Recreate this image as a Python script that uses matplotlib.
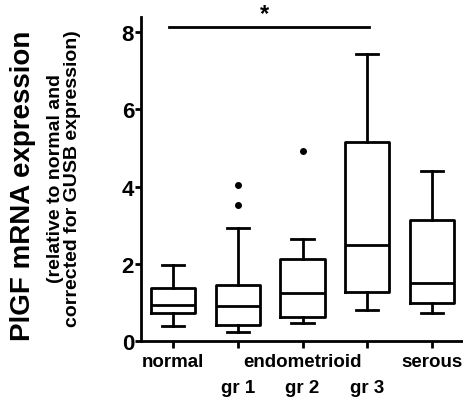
import numpy as np
import matplotlib
matplotlib.use("Agg")
import matplotlib.pyplot as plt
import matplotlib.transforms as mtransforms

# ------------------------------------------------------------
# Data
# ------------------------------------------------------------
groups = ["normal", "gr 1", "gr 2", "gr 3", "serous"]
tick_labels = ["normal", "", "endometrioid", "", "serous"]
grade_labels = ["gr 1", "gr 2", "gr 3"]
grade_positions = [2, 3, 4]

whisker_low = [0.39, 0.23, 0.46, 0.80, 0.72]
q1 = [0.72, 0.41, 0.62, 1.27, 0.98]
median = [0.93, 0.90, 1.24, 2.48, 1.50]
q3 = [1.37, 1.45, 2.12, 5.15, 3.12]
whisker_high = [1.98, 2.93, 2.64, 7.43, 4.40]
outliers = [[], [3.53, 4.04], [4.93], [], []]

sig_from, sig_to = 1, 4
sig_y = 8.13

# ------------------------------------------------------------
# Plot
# ------------------------------------------------------------
plt.rcParams["font.family"] = ["Liberation Sans", "DejaVu Sans"]
plt.rcParams["font.weight"] = "bold"

fig = plt.figure(figsize=(4.63, 4.02), dpi=100)
ax = fig.add_axes([0.3045, 0.1493, 0.6935, 0.806])

stats = []
for i in range(len(groups)):
    stats.append({
        "label": groups[i],
        "whislo": whisker_low[i],
        "q1": q1[i],
        "med": median[i],
        "q3": q3[i],
        "whishi": whisker_high[i],
        "fliers": outliers[i],
    })

lw = 2.0
positions = np.arange(1, len(groups) + 1)
ax.bxp(
    stats,
    positions=positions,
    widths=0.68,
    boxprops=dict(color="black", linewidth=lw),
    medianprops=dict(color="black", linewidth=lw),
    whiskerprops=dict(color="black", linewidth=lw),
    capprops=dict(color="black", linewidth=lw),
    flierprops=dict(marker="o", markersize=4, markerfacecolor="black",
                    markeredgecolor="black"),
)

# significance bar
ax.plot([sig_from - 0.06, sig_to + 0.03], [sig_y, sig_y], color="black",
        linewidth=lw, clip_on=False)
ax.text(2.42, 8.47, "*", ha="center", va="center", fontsize=17,
        fontweight="bold", clip_on=False)

ax.set_xlim(0.51, 5.46)
ax.set_ylim(0, 8.39)
ax.set_yticks([0, 2, 4, 6, 8])
ax.set_xticks(positions)
ax.set_xticklabels(tick_labels, fontsize=13.5, fontweight="bold")
ax.tick_params(axis="y", labelsize=16, width=lw, length=4, pad=1)
ax.tick_params(axis="x", width=lw, length=5, pad=4)

# second row of x labels (grades)
trans = mtransforms.blended_transform_factory(ax.transData, ax.transAxes)
for xp, lab in zip(grade_positions, grade_labels):
    ax.text(xp, -0.118, lab, transform=trans, ha="center", va="top",
            fontsize=13.5, fontweight="bold")

for side in ["top", "right"]:
    ax.spines[side].set_visible(False)
for side in ["left", "bottom"]:
    ax.spines[side].set_linewidth(lw)

fig.text(0.05, 0.537, "PlGF mRNA expression", rotation=90, ha="center",
         va="center", fontsize=20, fontweight="bold")
fig.text(0.139, 0.555, "(relative to normal and\ncorrected for GUSB expression)",
         rotation=90, ha="center", va="center", fontsize=14,
         fontweight="bold", multialignment="center", linespacing=1.0)

fig.savefig("out.png", dpi=100)
